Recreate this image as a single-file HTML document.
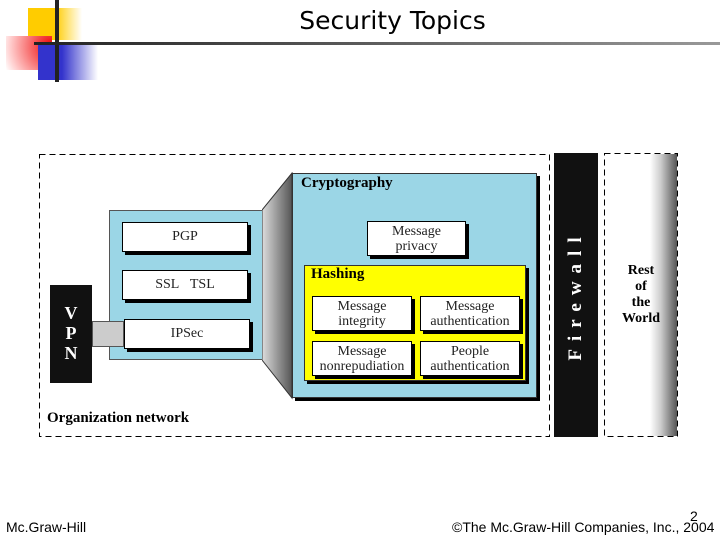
<!DOCTYPE html>
<html><head><style>
body{margin:0;width:720px;height:540px;background:#fff;position:relative;overflow:hidden;font-family:"Liberation Serif",serif}
div{position:absolute;box-sizing:border-box}
.w{background:#fff;border:1px solid #000;box-shadow:3px 3px 0 #000;text-align:center;font-size:14px;line-height:15px;color:#222}
.b{font-weight:bold}
</style></head><body>
<div style="left:28px;top:8px;width:54px;height:32px;background:linear-gradient(90deg,#fc0 50%,#fff)"></div>
<div style="left:6px;top:36px;width:46px;height:34px;background:radial-gradient(circle at 100% 30%,#e00,#fcc 80%,#fff)"></div>
<div style="left:38px;top:44px;width:60px;height:36px;background:linear-gradient(90deg,#33c 40%,#fff)"></div>
<div style="left:55px;top:0;width:4px;height:82px;background:#222"></div>
<div style="left:34px;top:42px;width:686px;height:3px;background:linear-gradient(90deg,#222,#999)"></div>
<div style="left:250px;top:6px;width:285px;text-align:center;font:25px 'DejaVu Sans',sans-serif;color:#000">Security Topics</div>

<svg style="position:absolute;left:0;top:0" width="720" height="540"><g fill="none" stroke="#000" stroke-dasharray="6,4"><rect x="39.5" y="154.5" width="510" height="282"/><rect x="604.5" y="153.5" width="73" height="283"/></g></svg>
<div class="b" style="left:47px;top:410px;font-size:15px">Organization network</div>
<div style="left:109px;top:210px;width:154px;height:150px;background:#9bd6e6;border:1px solid #555"></div>
<div class="w" style="left:122px;top:222px;width:126px;height:30px;line-height:28px">PGP</div>
<div class="w" style="left:122px;top:270px;width:126px;height:30px;line-height:28px">SSL&nbsp;&nbsp;&nbsp;TSL</div>
<div class="w" style="left:124px;top:319px;width:126px;height:30px;line-height:28px">IPSec</div>
<div style="left:92px;top:321px;width:32px;height:26px;background:#ccc;border:1px solid #555"></div>
<div class="b" style="left:50px;top:285px;width:42px;height:98px;background:#111;color:#fff;text-align:center;font-size:18px;line-height:20px;padding-top:18px">V<br>P<br>N</div>
<svg style="position:absolute;left:262px;top:172px" width="32" height="228"><defs><linearGradient id="g"><stop offset="0" stop-color="#ddd"/><stop offset="1" stop-color="#555"/></linearGradient></defs><polygon points="0,38 30,1 30,226 0,188" fill="url(#g)" stroke="#333"/></svg>
<div style="left:292px;top:173px;width:245px;height:225px;background:#9bd6e6;border:1px solid #333;box-shadow:3px 3px 0 #000"></div>
<div class="b" style="left:301px;top:175px;font-size:15px">Cryptography</div>
<div class="w" style="left:367px;top:221px;width:99px;height:35px;padding-top:2px">Message<br>privacy</div>
<div style="left:304px;top:265px;width:222px;height:116px;background:#ff0;border:1px solid #333;box-shadow:3px 3px 0 #000"></div>
<div class="b" style="left:311px;top:266px;font-size:15px">Hashing</div>
<div class="w" style="left:312px;top:296px;width:100px;height:35px;padding-top:2px">Message<br>integrity</div>
<div class="w" style="left:420px;top:296px;width:100px;height:35px;padding-top:2px">Message<br>authentication</div>
<div class="w" style="left:312px;top:341px;width:100px;height:35px;padding-top:2px">Message<br>nonrepudiation</div>
<div class="w" style="left:420px;top:341px;width:100px;height:35px;padding-top:2px">People<br>authentication</div>
<div style="left:554px;top:153px;width:44px;height:284px;background:#111"></div>
<div class="b" style="left:576px;top:295px;width:0;height:0;"><div style="left:-75px;top:-11px;width:150px;text-align:center;color:#fff;font-size:19px;letter-spacing:8px;transform:rotate(-90deg);white-space:nowrap">Firewall</div></div>
<div style="left:650px;top:154px;width:27px;height:282px;background:linear-gradient(90deg,#fff,#ccc 40%,#555)"></div>
<div class="b" style="left:610px;top:263px;width:62px;text-align:center;font-size:14px;line-height:16px">Rest<br>of<br>the<br>World</div>
<div style="left:6px;top:519px;font:14px 'Liberation Sans',sans-serif">Mc.Graw-Hill</div>
<div style="left:690px;top:508px;font:14px 'Liberation Sans',sans-serif">2</div>
<div style="left:452px;top:519px;font:14px 'Liberation Sans',sans-serif">©The Mc.Graw-Hill Companies, Inc., 2004</div>
</body></html>
